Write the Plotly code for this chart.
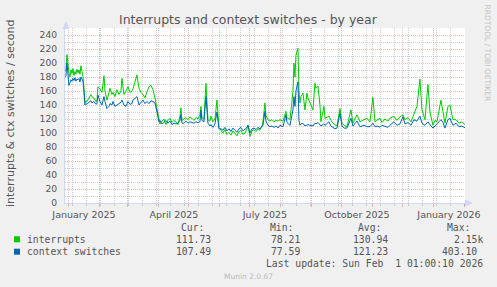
import pandas as pd
import plotly.graph_objects as go

# ---------------- data ----------------
base_date = "2025-01-01"
day_offset = [-4, -3, -2, -1, 0, 1, 2, 3, 4, 5, 6, 7, 8, 9, 10, 11, 12, 13, 14, 15, 16, 17, 18, 20, 22, 23,
              25, 27, 28, 29, 31, 33, 35, 36, 38, 40, 41, 43, 44, 46, 48, 50, 52, 53, 55, 57, 59, 61, 63, 64,
              66, 68, 70, 72, 74, 76, 78, 80, 82, 84, 86, 88, 90, 91, 93, 95, 97, 99, 101, 103, 105, 107, 109,
              111, 112, 113, 115, 117, 119, 121, 123, 125, 127, 129, 131, 132, 133, 135, 137, 138, 139, 141,
              142, 144, 146, 148, 149, 150, 152, 154, 156, 158, 160, 162, 164, 166, 168, 170, 172, 174, 176,
              178, 179, 181, 183, 185, 187, 189, 191, 193, 194, 196, 197, 199, 201, 203, 205, 207, 209, 211,
              214, 217, 218, 221, 224, 225, 226, 227, 229, 230, 231, 232, 234, 236, 238, 239, 241, 244, 246,
              247, 249, 251, 252, 255, 256, 260, 262, 264, 266, 268, 271, 273, 275, 278, 282, 284, 288, 291,
              295, 298, 301, 304, 306, 309, 311, 313, 316, 319, 321, 325, 328, 331, 334, 336, 339, 342, 345,
              348, 351, 353, 356, 359, 361, 364, 366, 368, 372, 374, 376, 379, 381, 384, 387, 390, 393, 396]

interrupts = [188, 190, 212, 195, 186, 180, 190, 185, 192, 182, 188, 184, 191, 186, 190, 184, 196, 188, 181,
              165, 143, 146, 145, 150, 155, 152, 150, 145, 146, 166, 163, 158, 182, 160, 147, 158, 164, 155,
              158, 152, 162, 155, 160, 178, 155, 160, 166, 158, 160, 163, 172, 183, 164, 158, 155, 150, 159,
              166, 168, 162, 150, 133, 120, 113, 117, 120, 112, 118, 121, 115, 118, 116, 112, 124, 136, 118,
              120, 122, 119, 123, 121, 118, 122, 120, 126, 138, 122, 120, 171, 135, 119, 117, 124, 116, 120,
              147, 125, 108, 104, 100, 105, 98, 101, 97, 103, 99, 96, 102, 104, 98, 100, 106, 111, 95, 103,
              105, 102, 106, 104, 110, 116, 143, 125, 119, 117, 119, 116, 118, 117, 119, 117, 131, 122, 119,
              159, 200, 180, 211, 221, 161, 143, 152, 157, 133, 157, 150, 143, 133, 171, 164, 167, 140, 116,
              138, 121, 124, 118, 114, 112, 110, 135, 114, 111, 109, 133, 114, 126, 116, 119, 121, 116, 151,
              116, 119, 121, 115, 120, 117, 121, 124, 118, 123, 126, 119, 122, 116, 128, 138, 177, 133, 119,
              169, 130, 111, 118, 116, 147, 130, 114, 138, 140, 119, 119, 114, 116, 111.73]

context_switches = [180, 182, 200, 185, 168, 172, 176, 174, 178, 175, 179, 174, 177, 176, 178, 173, 180, 177,
                    174, 158, 140, 142, 141, 144, 146, 143, 145, 141, 142, 154, 145, 140, 152, 145, 135, 138,
                    142, 140, 145, 138, 140, 141, 144, 147, 140, 138, 145, 141, 142, 147, 150, 152, 140, 143,
                    147, 142, 145, 142, 146, 145, 143, 130, 116, 118, 113, 115, 118, 114, 117, 112, 114, 113,
                    114, 118, 126, 114, 114, 117, 114, 116, 115, 114, 116, 115, 116, 132, 118, 116, 152, 128,
                    114, 110, 112, 108, 113, 130, 118, 106, 106, 104, 108, 103, 106, 102, 107, 104, 101, 106,
                    108, 103, 105, 108, 111, 100, 106, 107, 105, 108, 106, 110, 111, 131, 117, 111, 109, 110,
                    108, 110, 107, 111, 109, 126, 115, 111, 133, 152, 138, 160, 173, 118, 111, 113, 114, 110,
                    112, 112, 111, 110, 114, 113, 115, 112, 110, 113, 111, 116, 110, 108, 106, 107, 128, 110,
                    107, 107, 121, 110, 117, 109, 111, 109, 109, 114, 109, 110, 108, 111, 109, 108, 111, 116,
                    111, 113, 123, 113, 115, 111, 119, 117, 124, 114, 111, 116, 112, 107, 110, 113, 119, 115,
                    107, 119, 121, 111, 114, 109, 110, 107.49]

series_names = ["interrupts", "context switches"]
series_colors = ["#00CC00", "#0066B3"]
stat_headers = ["Cur:", "Min:", "Avg:", "Max:"]
stat_cur = ["111.73", "107.49"]
stat_min = ["78.21", "77.59"]
stat_avg = ["130.94", "121.23"]
stat_max = ["2.15k", "403.10"]

x_start, x_end = "2024-12-28 01:00", "2026-02-01 01:00"
quarter_labels = ["January 2025", "April 2025", "July 2025", "October 2025", "January 2026"]
quarter_label_dates = ["2025-01-16", "2025-04-16", "2025-07-16", "2025-10-16", "2026-01-16"]
y_max = 250

# ---------------- layout geometry ----------------
W, H = 497, 287
L, R, T, B = 65, 32, 28, 84
PW, PH = W - L - R, H - T - B


def px(x):
    return (x - L) / PW


def py(y):
    return (H - B - y) / PH


dates = pd.Timestamp(base_date) + pd.to_timedelta(day_offset, unit="D")
month_starts = pd.date_range("2025-01-01", "2026-02-01", freq="MS")

GRID = "rgba(140,140,140,0.42)"
MGRID = "rgba(205,60,60,0.34)"
AXIS = "#CFD6F8"
FONT = "#555555"

fig = go.Figure()
for name, vals, col in zip(series_names, [interrupts, context_switches], series_colors):
    fig.add_trace(go.Scatter(x=dates, y=vals, mode="lines", name=name,
                             line=dict(color=col, width=1), showlegend=False))
# helper trace so the label axis is drawn
fig.add_trace(go.Scatter(x=[x_start, x_end], y=[None, None], xaxis="x2", showlegend=False,
                         hoverinfo="skip"))

fig.update_layout(
    width=W, height=H,
    margin=dict(l=L, r=R, t=T, b=B, autoexpand=False),
    paper_bgcolor="#F0F0F0", plot_bgcolor="#FFFFFF",
    font=dict(family="DejaVu Sans", color=FONT),
    xaxis=dict(type="date", range=[x_start, x_end], showgrid=True, gridcolor=GRID,
               griddash="1px,1px", gridwidth=1, dtick=14 * 86400000, tick0="2025-01-05",
               showticklabels=False, ticks="outside", ticklen=2, tickcolor=GRID,
               zeroline=False, showline=True, linecolor=AXIS, linewidth=1,
               minor=dict(tickmode="array", tickvals=list(month_starts), showgrid=True,
                          gridcolor=MGRID, griddash="1px,1px", gridwidth=1,
                          ticks="outside", ticklen=3, tickcolor=MGRID)),
    xaxis2=dict(type="date", overlaying="x", anchor="y", side="bottom", range=[x_start, x_end],
                tickmode="array", tickvals=quarter_label_dates, ticktext=quarter_labels,
                showgrid=False, zeroline=False, showline=False, ticks="", ticklabelstandoff=4,
                tickfont=dict(size=9.5, color=FONT)),
    yaxis=dict(range=[0, y_max], dtick=20, tick0=0, showgrid=True, gridcolor=MGRID,
               griddash="1px,1px", gridwidth=1, zeroline=False, showline=True, linecolor=AXIS,
               linewidth=1, ticks="", ticklabelstandoff=5, tickfont=dict(size=9.2, color=FONT),
               minor=dict(dtick=10, showgrid=True, gridcolor=GRID, griddash="1px,1px", gridwidth=1)),
)

ann = []


def text(x, y, s, size=9.75, color=FONT, xanchor="left", family="DejaVu Sans Mono", angle=0):
    ann.append(dict(x=px(x), y=py(y), xref="paper", yref="paper", text=s, showarrow=False,
                    xanchor=xanchor, yanchor="middle", borderpad=0, borderwidth=0, textangle=angle,
                    font=dict(family=family, size=size, color=color)))


text(248, 19, "Interrupts and context switches - by year", size=12.5, xanchor="center",
     family="DejaVu Sans")
text(10, 114, "interrupts & ctx switches / second", size=11, xanchor="center",
     family="DejaVu Sans", angle=-90)
text(487.5, 53, "RRDTOOL / TOBI OETIKER", size=7.5, color="#C4C4C4", xanchor="center",
     family="DejaVu Sans", angle=90)

for hdr, xr in zip(stat_headers, [204, 293, 381, 470]):
    text(xr, 227.7, hdr, xanchor="right")

row_y = [239.3, 251.7]
max_right = [482.7, 476.7]
shapes = [
    # axis arrow heads
    dict(type="path", xref="paper", yref="paper", fillcolor=AXIS, line=dict(width=0),
         path=f"M {px(62.5)},{py(29)} L {px(69.5)},{py(29)} L {px(66)},{py(21)} Z"),
    dict(type="path", xref="paper", yref="paper", fillcolor=AXIS, line=dict(width=0),
         path=f"M {px(465)},{py(199.5)} L {px(465)},{py(206.5)} L {px(473)},{py(203)} Z"),
]
for i in range(2):
    yc = row_y[i]
    shapes.append(dict(type="rect", xref="paper", yref="paper", x0=px(14), x1=px(20),
                       y0=py(yc + 3), y1=py(yc - 3), fillcolor=series_colors[i],
                       line=dict(width=0)))
    text(26.7, yc, series_names[i])
    text(210.7, yc, stat_cur[i], xanchor="right")
    text(300, yc, stat_min[i], xanchor="right")
    text(387.7, yc, stat_avg[i], xanchor="right")
    text(max_right[i], yc, stat_max[i], xanchor="right")

text(482.7, 263.3, "Last update: Sun Feb\u00a0 1 01:00:10 2026", xanchor="right")
text(248, 276, "Munin 2.0.67", size=7.5, color="#BBBBBB", xanchor="center", family="DejaVu Sans")

fig.update_layout(annotations=ann, shapes=shapes)
fig.write_html("out.html")
